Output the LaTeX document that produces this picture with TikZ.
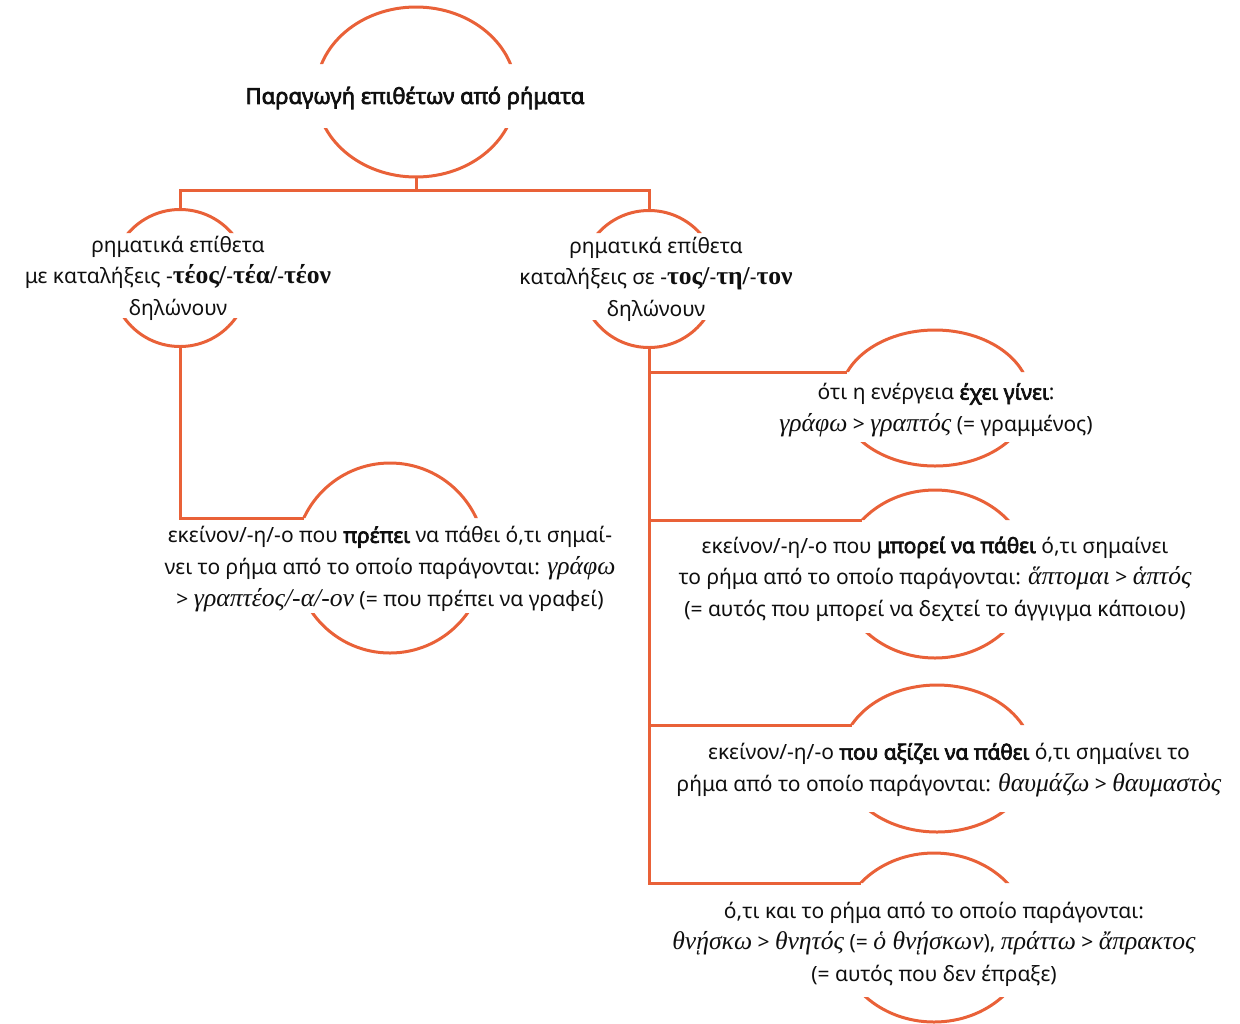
\documentclass[tikz,border=0pt]{standalone}
\usepackage{fontspec}
\setmainfont{Noto Sans}[AutoFakeBold=3.2]
\newfontfamily\grserif{Liberation Serif}[Scale=1.22]
\newcommand\gi[1]{{\grserif\itshape #1}}
\newcommand\gb[1]{{\grserif\bfseries #1}}
\definecolor{accent}{RGB}{233,97,56}
\definecolor{ink}{RGB}{15,15,15}

% An open ring: an ellipse with a horizontal band removed for its text.
% #1 name, #2 cx, #3 cy, #4 x radius, #5 y radius, #6 upper cut, #7 lower cut
\newcommand\openring[7]{%
  \begin{scope}
    \clip (#2-#4-6,#3-#5-6) rectangle (#2+#4+6,#6)
          (#2-#4-6,#7) rectangle (#2+#4+6,#3+#5+6);
    \draw[ringline] (#2,#3) ellipse [x radius=#4, y radius=#5];
  \end{scope}
  \pgfmathsetmacro\ringdx{#4*sqrt(1-((#3-#6)/#5)^2)}
  \coordinate (#1-in) at (#2-\ringdx,#6);
  \coordinate (#1-n) at (#2,#3-#5);
  \coordinate (#1-s) at (#2,#3+#5);
}

\begin{document}
\begin{tikzpicture}[x=0.5pt,y=-0.5pt,
  ringline/.style={draw=accent, line width=1.5pt},
  conn/.style={draw=accent, line width=1.5pt},
  txt/.style={inner sep=0pt, align=center, text=ink,
    font=\fontsize{10.5}{15.8}\selectfont}]
\useasboundingbox (0,0) rectangle (1240,1023);

% rings
\openring{T}{416}{92}{100}{85}{64}{128}
\openring{L}{180}{278}{68.5}{68.5}{233}{318}
\openring{R}{649}{279}{68.5}{68.5}{233}{320}
\openring{LC}{390}{558}{95}{95}{518}{613}
\openring{RA}{935}{398}{95}{68}{372}{442}
\openring{RB}{935}{574}{95}{84}{520}{633}
\openring{RC}{937}{758.5}{96}{73.5}{725}{812}
\openring{RD}{934}{937.5}{96}{84.5}{883}{997}

% texts
\node[txt, font=\fontsize{11}{15.8}\selectfont] (Tt) at (415,98) {\textbf{Παραγωγή επιθέτων από ρήματα}};
\node[txt] (Lt) at (178,278) {ρηματικά επίθετα\\με καταλήξεις -\gb{τέος/}-\gb{τέα/}-\gb{τέον}\\δηλώνουν};
\node[txt] (Rt) at (656,279) {ρηματικά επίθετα\\καταλήξεις σε -\gb{τος/}-\gb{τη/}-\gb{τον}\\δηλώνουν};
\node[txt] (LCt) at (390,569) {εκείνον/-η/-ο που \textbf{πρέπει} να πάθει ό,τι σημαί-\\νει το ρήμα από το οποίο παράγονται: \gi{γράφω}\\> \gi{γραπτέος/-α/-ον} (= που πρέπει να γραφεί)};
\node[txt] (RAt) at (936,410) {ότι η ενέργεια \textbf{έχει γίνει}:\\\gi{γράφω} > \gi{γραπτός} (= γραμμένος)};
\node[txt] (RBt) at (935,579) {εκείνον/-η/-ο που \textbf{μπορεί να πάθει} ό,τι σημαίνει\\το ρήμα από το οποίο παράγονται: \gi{ἅπτομαι} > \gi{ἁπτός}\\(= αυτός που μπορεί να δεχτεί το άγγιγμα κάποιου)};
\node[txt] (RCt) at (949,770) {εκείνον/-η/-ο \textbf{που αξίζει να πάθει} ό,τι σημαίνει το\\ρήμα από το οποίο παράγονται: \gi{θαυμάζω} > \gi{θαυμαστὸς}};
\node[txt] (RDt) at (934,944) {ό,τι και το ρήμα από το οποίο παράγονται:\\\gi{θνῄσκω} > \gi{θνητός} (= \gi{ὁ θνῄσκων}), \gi{πράττω} > \gi{ἄπρακτος}\\(= αυτός που δεν έπραξε)};

% connectors
\coordinate (bus) at (416,190);
\draw[conn] (T-s) -- (bus);
\draw[conn] (L-n) -- (L-n |- bus) -- (R-n |- bus) -- (R-n);
\draw[conn] (L-s) |- (LC-in);
\draw[conn] (R-s) -- (R-s |- RD-in) -- (RD-in);
\draw[conn] (R-s |- RA-in) -- (RA-in);
\draw[conn] (R-s |- RB-in) -- (RB-in);
\draw[conn] (R-s |- RC-in) -- (RC-in);
\end{tikzpicture}
\end{document}
